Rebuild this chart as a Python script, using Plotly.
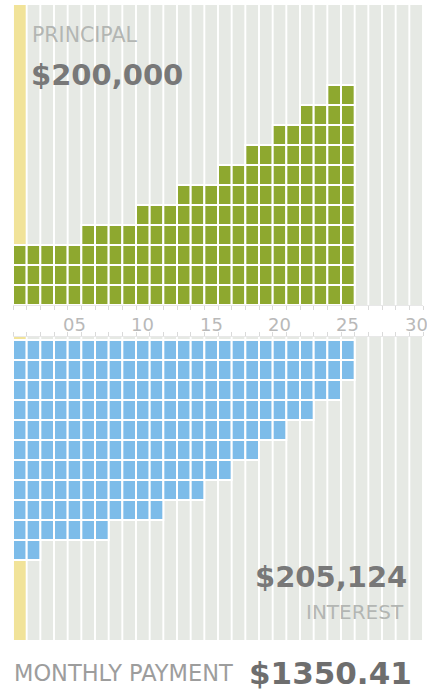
import plotly.graph_objects as go

# Loan term grid: 30 year columns, 25 years of repayment
years = list(range(1, 31))
loan_years = list(range(1, 26))

# Blocks per year (each block is one unit of money paid that year)
principal_blocks = [3, 3, 3, 3, 3, 4, 4, 4, 4, 5, 5, 5, 6, 6, 6,
                    7, 7, 8, 8, 9, 9, 10, 10, 11, 11]
interest_blocks = [11, 11, 10, 10, 10, 10, 10, 9, 9, 9, 9, 8, 8, 8, 7,
                   7, 6, 6, 5, 5, 4, 4, 3, 3, 2]

tick_years = [5, 10, 15, 20, 25, 30]
tick_text = ["05", "10", "15", "20", "25", "30"]

principal_total = "$200,000"
interest_total = "$205,124"
monthly_payment = "$1350.41"
highlight_year = 1

W, H = 427, 695
ROWS = 15
GREEN = "#8ea82f"
BLUE = "#7dbce9"
STRIPE = "#e6e9e4"
HIGHLIGHT = "#f1e399"
FONT = "DejaVu Sans"


def px_x(p):
    return p / W


def px_y(p):
    return 1 - p / H


def block_positions(blocks):
    xs, bases = [], []
    for yr, n in zip(loan_years, blocks):
        for k in range(n):
            xs.append(yr)
            bases.append(k)
    return xs, bases


stripe_colors = [HIGHLIGHT if y == highlight_year else STRIPE for y in years]

fig = go.Figure()

# background stripes, one per year
fig.add_trace(go.Bar(x=years, y=[ROWS] * len(years), base=0, width=0.86,
                     marker=dict(color=stripe_colors, line=dict(width=0)),
                     xaxis="x", yaxis="y", hoverinfo="skip"))
fig.add_trace(go.Bar(x=years, y=[ROWS + 0.15] * len(years), base=-0.15, width=0.86,
                     marker=dict(color=stripe_colors, line=dict(width=0)),
                     xaxis="x2", yaxis="y2", hoverinfo="skip"))

# principal blocks stacked upward
px_, pb = block_positions(principal_blocks)
fig.add_trace(go.Bar(x=px_, y=[1] * len(px_), base=pb, width=1.0,
                     marker=dict(color=GREEN, line=dict(color="white", width=2)),
                     xaxis="x", yaxis="y", name="Principal"))

# interest blocks hanging downward
ix, ib = block_positions(interest_blocks)
fig.add_trace(go.Bar(x=ix, y=[1] * len(ix), base=ib, width=1.0,
                     marker=dict(color=BLUE, line=dict(color="white", width=2)),
                     xaxis="x2", yaxis="y2", name="Interest"))

x_dom = [px_x(13), px_x(423)]
minor_ticks = dict(tick0=0.5, dtick=1, ticks="outside", ticklen=4,
                   tickcolor="#dadada", tickwidth=1, showgrid=False)

fig.update_layout(
    width=W, height=H,
    margin=dict(l=0, r=0, t=0, b=0, autoexpand=False),
    paper_bgcolor="white", plot_bgcolor="white",
    barmode="overlay", showlegend=False,
    xaxis=dict(domain=x_dom, anchor="y", range=[0.5, 30.5], automargin=False,
               showticklabels=False, ticks="",
               showgrid=False, zeroline=False, showline=True,
               linecolor="#e8e8e8", linewidth=1, minor=minor_ticks),
    xaxis2=dict(domain=x_dom, anchor="y2", range=[0.5, 30.5], side="top",
                automargin=False,
                showticklabels=False, ticks="", showgrid=False, zeroline=False,
                showline=True, linecolor="#e8e8e8", linewidth=1,
                minor=minor_ticks),
    yaxis=dict(domain=[px_y(305), px_y(5)], range=[0, ROWS], visible=False),
    yaxis2=dict(domain=[px_y(640), px_y(337)], range=[ROWS, -0.15], visible=False),
)

annotations = [
    dict(text="PRINCIPAL", x=px_x(30), y=px_y(35), xanchor="left", yanchor="middle",
         font=dict(family=FONT, size=20.5, color="#b3b6b3")),
    dict(text=principal_total, x=px_x(29), y=px_y(75), xanchor="left", yanchor="middle",
         font=dict(family=FONT, size=29, color="#787878", weight="bold")),
    dict(text=interest_total, x=px_x(409), y=px_y(577), xanchor="right", yanchor="middle",
         font=dict(family=FONT, size=29, color="#787878", weight="bold")),
    dict(text="INTEREST", x=px_x(406), y=px_y(612), xanchor="right", yanchor="middle",
         font=dict(family=FONT, size=20, color="#b3b6b3")),
    dict(text="MONTHLY PAYMENT", x=px_x(12), y=px_y(673), xanchor="left", yanchor="middle",
         font=dict(family=FONT, size=22.5, color="#9d9d9d")),
    dict(text=monthly_payment, x=px_x(414), y=px_y(673), xanchor="right", yanchor="middle",
         font=dict(family=FONT, size=31, color="#6e6e6e", weight="bold")),
]
for a in annotations:
    a.update(xref="paper", yref="paper", showarrow=False)

# year labels between the two panels, placed on the shared year scale
for yr, label in zip(tick_years, tick_text):
    annotations.append(dict(text=label, x=yr, xref="x", y=px_y(324), yref="paper",
                            xanchor="center", yanchor="middle", showarrow=False,
                            font=dict(family=FONT, size=18, color="#b9b9b9")))

fig.update_layout(annotations=annotations)

fig.write_html("out.html")
